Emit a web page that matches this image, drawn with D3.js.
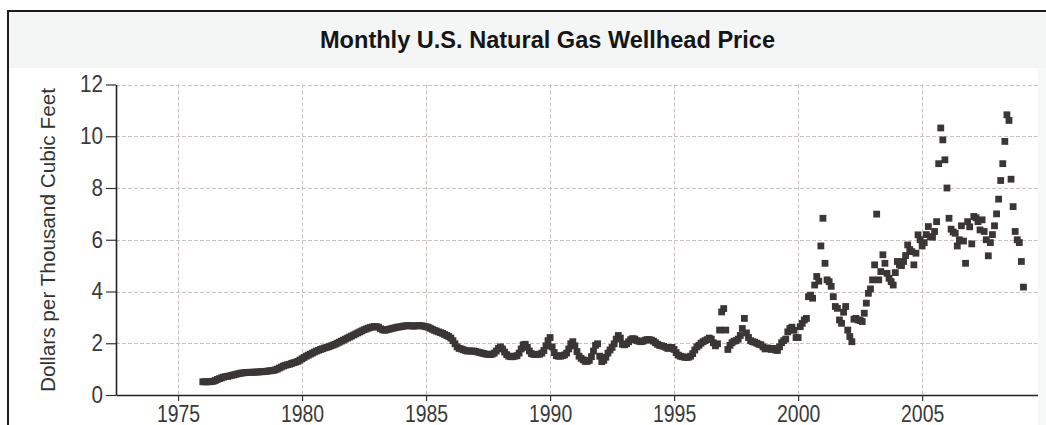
<!DOCTYPE html>
<html>
<head>
<meta charset="utf-8">
<script src="https://cdn.jsdelivr.net/npm/d3@7"></script>
<style>
  body { margin: 0; background: #fff; }
  svg { display: block; font-family: "Liberation Sans", Arial, sans-serif; }
</style>
</head>
<body>
<div id="chart"></div>
<script>
// monthly wellhead price in dollars per thousand cubic feet, starting Jan 1976
var firstYear = 1976;

var prices1970s = [
  0.51,0.51,0.51,0.51,0.52,0.53,0.56,0.60,0.63,0.66,0.69,0.71, // 1976
  0.72,0.74,0.76,0.78,0.80,0.82,0.84,0.85,0.86,0.87,0.87,0.88, // 1977
  0.88,0.88,0.89,0.89,0.90,0.90,0.91,0.92,0.93,0.94,0.95,0.97, // 1978
  1.00,1.04,1.08,1.12,1.15,1.17,1.19,1.22,1.25,1.27,1.30,1.35  // 1979
];

var prices1980s = [
  1.40,1.45,1.50,1.54,1.58,1.62,1.66,1.70,1.73,1.76,1.79,1.82, // 1980
  1.84,1.87,1.90,1.93,1.96,2.00,2.04,2.08,2.12,2.16,2.20,2.24, // 1981
  2.28,2.32,2.36,2.40,2.44,2.48,2.52,2.55,2.58,2.61,2.63,2.65, // 1982
  2.64,2.62,2.56,2.52,2.50,2.52,2.54,2.56,2.58,2.60,2.62,2.63, // 1983
  2.64,2.66,2.67,2.68,2.68,2.67,2.66,2.67,2.68,2.68,2.67,2.66, // 1984
  2.64,2.62,2.58,2.54,2.50,2.47,2.44,2.41,2.38,2.34,2.30,2.26, // 1985
  2.20,2.10,1.98,1.86,1.80,1.78,1.75,1.72,1.70,1.70,1.70,1.70, // 1986
  1.68,1.66,1.64,1.62,1.60,1.58,1.57,1.56,1.58,1.62,1.70,1.80, // 1987
  1.86,1.78,1.66,1.56,1.50,1.48,1.48,1.50,1.52,1.62,1.78,1.94, // 1988
  1.96,1.84,1.70,1.60,1.57,1.56,1.57,1.58,1.62,1.72,1.90,2.10  // 1989
];

var prices1990s = [
  2.22,1.86,1.64,1.52,1.50,1.50,1.52,1.55,1.62,1.78,1.98,2.06, // 1990
  1.90,1.68,1.50,1.42,1.36,1.30,1.30,1.34,1.48,1.70,1.92,1.98, // 1991
  1.50,1.29,1.34,1.46,1.62,1.74,1.84,1.98,2.16,2.30,2.20,1.96, // 1992
  1.94,1.98,2.06,2.14,2.18,2.16,2.10,2.08,2.06,2.08,2.12,2.14, // 1993
  2.14,2.12,2.08,2.02,1.96,1.92,1.90,1.88,1.84,1.80,1.82,1.84, // 1994
  1.76,1.64,1.54,1.50,1.48,1.46,1.45,1.46,1.50,1.60,1.74,1.86, // 1995
  1.92,2.00,2.06,2.10,2.14,2.20,2.16,2.02,1.90,1.98,2.51,3.21, // 1996
  3.34,2.51,1.76,1.92,2.02,2.08,2.10,2.16,2.30,2.57,2.96,2.40, // 1997
  2.22,2.10,2.06,2.04,2.00,1.96,1.94,1.86,1.78,1.82,1.80,1.76, // 1998
  1.80,1.74,1.72,1.86,2.02,2.10,2.16,2.44,2.57,2.62,2.50,2.22  // 1999
];

var prices2000s = [
  2.22,2.64,2.77,2.90,2.96,3.80,3.86,3.74,4.25,4.58,4.40,5.76, // 2000
  6.83,5.09,4.45,4.38,4.20,3.80,3.42,3.35,2.90,2.77,3.20,3.42, // 2001
  2.51,2.26,2.06,2.93,2.96,2.90,2.88,2.84,3.16,3.55,3.93,4.10, // 2002
  4.45,5.03,6.99,4.45,4.77,5.42,5.09,4.70,4.51,4.38,4.25,4.73, // 2003
  5.16,5.03,5.00,5.16,5.39,5.80,5.62,5.54,5.03,5.48,6.19,6.00, // 2004
  5.76,5.89,6.20,6.51,6.12,6.10,6.32,6.70,8.94,10.32,9.86,9.09, // 2005
  8.00,6.83,6.41,6.30,6.25,5.76,6.00,6.54,5.95,5.09,6.70,6.50, // 2006
  5.84,6.90,6.85,6.70,6.38,6.77,6.32,6.00,5.38,5.89,6.20,6.54, // 2007
  7.00,7.57,8.29,8.94,9.80,10.83,10.61,8.34,7.28,6.32,6.00,5.89, // 2008
  5.16,4.17                                                     // 2009
];

var xTicks = [1975, 1980, 1985, 1990, 1995, 2000, 2005];
var yTicks = [0, 2, 4, 6, 8, 10, 12];

var titleText = "Monthly U.S. Natural Gas Wellhead Price";
var yLabelText = "Dollars per Thousand Cubic Feet";

var prices = prices1970s.concat(prices1980s, prices1990s, prices2000s);
var data = prices.map(function(v, i) {
  return { t: firstYear + i / 12, v: v };
});

var width = 1046, height = 425;

var svg = d3.select("#chart").append("svg")
  .attr("width", width)
  .attr("height", height);

// panel: grey title band, white body, dark frame on top and left
svg.append("rect").attr("x", 8).attr("y", 11).attr("width", width - 8).attr("height", height - 11).attr("fill", "#fff");
svg.append("rect").attr("x", 9).attr("y", 12).attr("width", width - 9).attr("height", 56).attr("fill", "#f4f5f5");
svg.append("rect").attr("x", 1038).attr("y", 68).attr("width", 8).attr("height", height - 68).attr("fill", "#f7f8f8");
svg.append("line").attr("x1", 8).attr("x2", width).attr("y1", 11).attr("y2", 11)
  .attr("stroke", "#1c1c1c").attr("stroke-width", 2);
svg.append("line").attr("x1", 8).attr("x2", 8).attr("y1", 10).attr("y2", height)
  .attr("stroke", "#1c1c1c").attr("stroke-width", 2);

svg.append("text")
  .attr("x", 547.5).attr("y", 48.3)
  .attr("text-anchor", "middle")
  .attr("font-weight", "bold")
  .attr("font-size", "23px")
  .attr("fill", "#151515")
  .attr("textLength", 455)
  .attr("lengthAdjust", "spacingAndGlyphs")
  .text(titleText);

var x = d3.scaleLinear().domain([1972.5, 2009.65]).range([116, 1037.5]);
var y = d3.scaleLinear().domain([0, 12]).range([395, 84.5]);

// dashed grid
var grid = svg.append("g")
  .attr("stroke", "#c9c3c0")
  .attr("stroke-width", 1)
  .attr("stroke-dasharray", "4,2");

grid.selectAll(".hgrid").data(yTicks.filter(function(d) { return d > 0; }))
  .enter().append("line").attr("class", "hgrid")
  .attr("x1", x.range()[0]).attr("x2", x.range()[1])
  .attr("y1", function(d) { return Math.round(y(d)) + 0.5; })
  .attr("y2", function(d) { return Math.round(y(d)) + 0.5; });

grid.selectAll(".vgrid").data(xTicks)
  .enter().append("line").attr("class", "vgrid")
  .attr("x1", function(d) { return Math.round(x(d)) + 0.5; })
  .attr("x2", function(d) { return Math.round(x(d)) + 0.5; })
  .attr("y1", y(12)).attr("y2", y(0));

// points
var size = 6.8;
svg.append("g").selectAll("rect").data(data).enter().append("rect")
  .attr("x", function(d) { return x(d.t) - size / 2; })
  .attr("y", function(d) { return y(d.v) - size / 2; })
  .attr("width", size)
  .attr("height", size)
  .attr("fill", "#3b3636");

// axes
var yAxis = d3.axisLeft(y).tickValues(yTicks).tickSize(10).tickPadding(3).tickSizeOuter(0);
var gy = svg.append("g").attr("transform", "translate(116,0)").call(yAxis);

var xAxis = d3.axisBottom(x).tickValues(xTicks).tickSize(6).tickSizeOuter(0).tickFormat(d3.format("d"));
var gx = svg.append("g").attr("transform", "translate(0,395)").call(xAxis);

[gy, gx].forEach(function(g) {
  g.select(".domain").attr("stroke", "#222").attr("stroke-width", 1.6);
  g.selectAll(".tick line").attr("stroke", "#333").attr("stroke-width", 1.2);
  g.selectAll(".tick text")
    .attr("fill", "#3a3a3a")
    .attr("font-family", "'Liberation Sans', Arial, sans-serif")
    .attr("lengthAdjust", "spacingAndGlyphs")
    .attr("textLength", function(d) { return String(d).length * (g === gx ? 10.8 : 11.5); });
});

gy.selectAll(".tick text").attr("font-size", "23px");
gx.selectAll(".tick text").attr("font-size", "24px").attr("y", 26.5).attr("dy", 0);

svg.append("text")
  .attr("transform", "translate(55,240) rotate(-90)")
  .attr("text-anchor", "middle")
  .attr("font-size", "20px")
  .attr("fill", "#333")
  .attr("textLength", 304)
  .attr("lengthAdjust", "spacingAndGlyphs")
  .text(yLabelText);
</script>
</body>
</html>
